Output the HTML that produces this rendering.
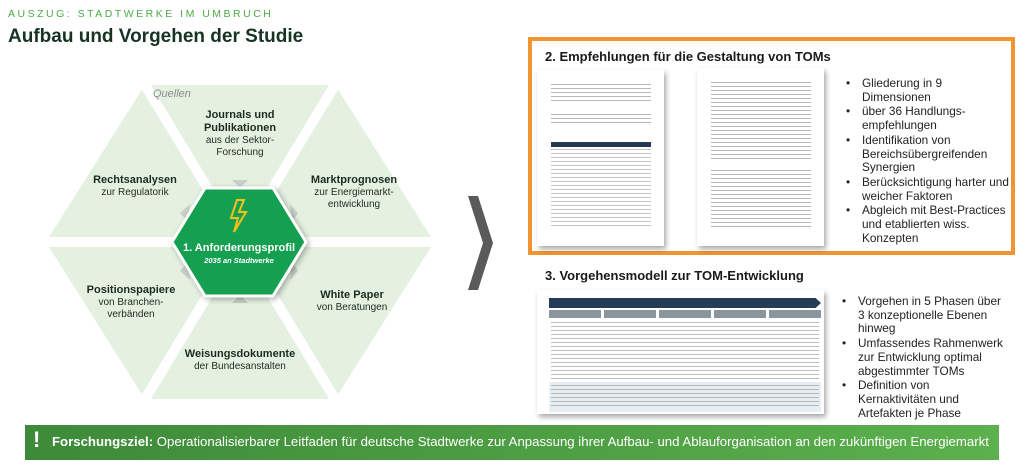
<!DOCTYPE html>
<html><head><meta charset="utf-8"><style>
*{margin:0;padding:0;box-sizing:border-box}
body{width:1024px;height:476px;background:#fff;font-family:"Liberation Sans",sans-serif;position:relative;overflow:hidden}
.abs{position:absolute}
.t{position:absolute;text-align:center;font-size:10px;color:#1d2a20;line-height:12px}
.t b{font-size:11px}
.page{position:absolute;background:#fff;box-shadow:2px 3px 5px rgba(0,0,0,.35)}
.lines{position:absolute;background:repeating-linear-gradient(#b8b8b8 0 1px,transparent 1px 4px)}
ul{list-style:none}
li{position:relative;padding-left:16px;font-size:11.8px;line-height:13.7px;color:#222;margin-bottom:1px;white-space:nowrap}
li:before{content:"•";position:absolute;left:0;top:0}
</style></head><body>
<div class="abs" style="left:8px;top:8px;font-size:10.5px;letter-spacing:2.5px;color:#4caa46">AUSZUG: STADTWERKE IM UMBRUCH</div>
<div class="abs" style="left:8px;top:26px;font-size:19px;font-weight:bold;color:#173322">Aufbau und Vorgehen der Studie</div>

<svg class="abs" style="left:0;top:0" width="520" height="420">
<g fill="#e4f1e1" stroke="#fff" stroke-width="10" stroke-linejoin="miter">
<polygon points="142,80 338,80 240,242"/>
<polygon points="142,80 40,242 240,242"/>
<polygon points="338,80 440,242 240,242"/>
<polygon points="40,242 142,404 240,242"/>
<polygon points="440,242 338,404 240,242"/>
<polygon points="142,404 338,404 240,242"/>
</g>
<g fill="#c9cfc9">
<polygon points="232,180 248,180 240,188"/>
<polygon points="232,303 248,303 240,295"/>
<polygon points="180,213 190,204 188,222"/>
<polygon points="298,213 290,204 292,222"/>
<polygon points="180,271 190,280 188,262"/>
<polygon points="298,271 290,280 292,262"/>
</g>
<polygon points="205,188 273,188 306,242 273,296 205,296 172,242" fill="#14a050" stroke="#fff" stroke-width="3" style="filter:drop-shadow(2px 2px 3px rgba(0,0,0,.3))"/>
<polygon points="237,200 231,218 238,218 234,232 246,212 239,212 244,200" fill="none" stroke="#f6c21a" stroke-width="2"/>
<polygon points="468,196 478,196 493,243 478,290 468,290 483,243" fill="#5a5a5a"/>
</svg>
<div class="abs" style="left:153px;top:88px;font-size:11px;font-style:italic;color:#8a8a8a">Quellen</div>
<div class="t" style="left:180px;top:109px;width:120px"><b>Journals und<br>Publikationen</b><br>aus der Sektor-<br>Forschung</div>
<div class="t" style="left:75px;top:174px;width:120px"><b>Rechtsanalysen</b><br>zur Regulatorik</div>
<div class="t" style="left:294px;top:174px;width:120px"><b>Marktprognosen</b><br>zur Energiemarkt-<br>entwicklung</div>
<div class="t" style="left:71px;top:284px;width:120px"><b>Positionspapiere</b><br>von Branchen-<br>verbänden</div>
<div class="t" style="left:292px;top:289px;width:120px"><b>White Paper</b><br>von Beratungen</div>
<div class="t" style="left:170px;top:348px;width:140px"><b>Weisungsdokumente</b><br>der Bundesanstalten</div>
<div class="t" style="left:174px;top:242px;width:130px;color:#fff"><b style="font-size:11px">1. Anforderungsprofil</b></div>
<div class="t" style="left:174px;top:256px;width:130px;color:#fff;font-size:7.5px;font-style:italic;font-weight:bold;line-height:9px">2035 an Stadtwerke</div>

<div class="abs" style="left:528px;top:37px;width:487px;height:218px;border:4px solid #f29430"></div>
<div class="abs" style="left:545px;top:49px;font-size:13px;font-weight:bold;color:#1a1a1a">2. Empfehlungen für die Gestaltung von TOMs</div>
<div class="page" style="left:537px;top:70px;width:127px;height:176px">
 <div class="lines" style="left:14px;top:14px;width:100px;height:20px"></div>
 <div class="lines" style="left:14px;top:44px;width:100px;height:12px"></div>
 <div class="abs" style="left:14px;top:72px;width:100px;height:5px;background:#243a52"></div>
 <div class="lines" style="left:14px;top:79px;width:100px;height:78px;background:repeating-linear-gradient(#c4c4c4 0 1px,transparent 1px 4px)"></div>
</div>
<div class="page" style="left:697px;top:68px;width:127px;height:178px">
 <div class="lines" style="left:14px;top:14px;width:100px;height:80px"></div>
 <div class="lines" style="left:14px;top:102px;width:100px;height:60px"></div>
</div>
<ul class="abs" style="left:846px;top:77px;width:168px">
<li>Gliederung in 9<br>Dimensionen</li>
<li>über 36 Handlungs-<br>empfehlungen</li>
<li>Identifikation von<br>Bereichsübergreifenden<br>Synergien</li>
<li>Berücksichtigung harter und<br>weicher Faktoren</li>
<li>Abgleich mit Best-Practices<br>und etablierten wiss.<br>Konzepten</li>
</ul>

<div class="abs" style="left:545px;top:268px;font-size:13px;font-weight:bold;color:#1a1a1a">3. Vorgehensmodell zur TOM-Entwicklung</div>
<div class="page" style="left:537px;top:290px;width:287px;height:124px">
 <div class="abs" style="left:12px;top:8px;width:272px;height:10px;background:#243c55;clip-path:polygon(0 0,98% 0,100% 50%,98% 100%,0 100%)"></div>
 <div class="abs" style="left:12px;top:20px;width:272px;height:8px;background:repeating-linear-gradient(90deg,#8a959e 0 52px,#fff 52px 55px)"></div>
 <div class="lines" style="left:14px;top:32px;width:268px;height:58px;background:repeating-linear-gradient(#bdbdbd 0 1px,transparent 1px 4px)"></div>
 <div class="abs" style="left:12px;top:92px;width:272px;height:30px;background:#e6eef2"></div>
 <div class="lines" style="left:14px;top:95px;width:268px;height:24px"></div>
</div>
<ul class="abs" style="left:842px;top:295px;width:175px">
<li>Vorgehen in 5 Phasen über<br>3 konzeptionelle Ebenen<br>hinweg</li>
<li>Umfassendes Rahmenwerk<br>zur Entwicklung optimal<br>abgestimmter TOMs</li>
<li>Definition von<br>Kernaktivitäten und<br>Artefakten je Phase</li>
</ul>

<div class="abs" style="left:25px;top:425px;width:974px;height:35px;background:linear-gradient(90deg,#3d8a39,#5cb04d)"></div>
<div class="abs" style="left:33px;top:427px;font-size:22px;font-weight:bold;color:#fff">!</div>
<div class="abs" style="left:52px;top:434px;font-size:13.2px;color:#fff;white-space:nowrap"><b>Forschungsziel:</b> Operationalisierbarer Leitfaden für deutsche Stadtwerke zur Anpassung ihrer Aufbau- und Ablauforganisation an den zukünftigen Energiemarkt</div>
</body></html>
